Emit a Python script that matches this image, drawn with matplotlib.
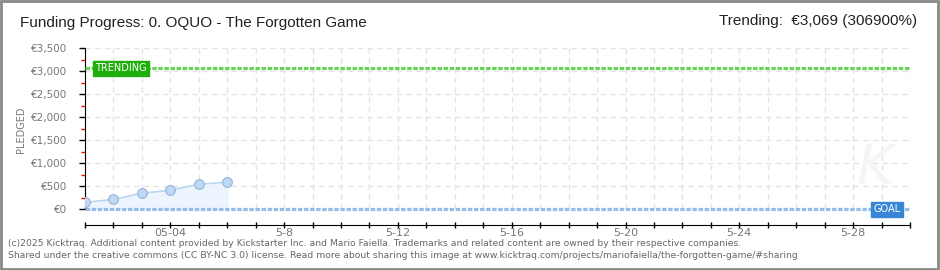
import matplotlib
matplotlib.use("Agg")
import matplotlib.pyplot as plt
import matplotlib.dates as mdates
from matplotlib.ticker import MultipleLocator, FuncFormatter
import datetime as dt

# data
dates = ["2025-05-01", "2025-05-02", "2025-05-03", "2025-05-04", "2025-05-05", "2025-05-06"]
pledged = [150, 215, 350, 415, 545, 590]
goal = 1
trending = 3069
x_start, x_end = "2025-05-01", "2025-05-30"
tick_labels = {"2025-05-04": "05-04", "2025-05-08": "5-8", "2025-05-12": "5-12",
               "2025-05-16": "5-16", "2025-05-20": "5-20", "2025-05-24": "5-24",
               "2025-05-28": "5-28"}

plt.rcParams['font.family'] = ['DejaVu Sans']

d = [dt.datetime.fromisoformat(s) for s in dates]
x0 = dt.datetime.fromisoformat(x_start)
x1 = dt.datetime.fromisoformat(x_end)

fig = plt.figure(figsize=(9.4, 2.7), dpi=100)
fig.patch.set_facecolor("white")
# outer frame
fig.add_artist(plt.Rectangle((0.001, 0.002), 0.997, 0.995, transform=fig.transFigure,
                             fill=False, edgecolor="#888888", linewidth=2))

ax = fig.add_axes([85 / 940, 1 - 209.3 / 270, 825 / 940, 161 / 270])
ax.set_xlim(x0, x1)
ax.set_ylim(0, 3500)

# grid
ax.yaxis.set_major_locator(MultipleLocator(500))
ax.yaxis.set_minor_locator(MultipleLocator(250))
ax.xaxis.set_major_locator(mdates.DayLocator())
ax.grid(True, which="major", color="#e4e4e4", linestyle=(0, (4, 3)), linewidth=1)
ax.set_axisbelow(True)

# series
ax.fill_between(d, pledged, 0, color="#ecf4fd", zorder=2)
ax.plot(d, pledged, color="#bcd6f2", linewidth=1.2, zorder=3)
ax.plot(d, pledged, "o", markersize=7, markerfacecolor="#bdd8f5",
        markeredgecolor="#94b4d8", markeredgewidth=0.8, zorder=4)

# goal and trending lines
ax.axhline(goal, color="#94bee9", linewidth=2.3, linestyle=(0, (1.4, 0.5)),
           zorder=3, clip_on=False)
ax.axhline(trending, color="#6ad35a", linewidth=2.3, linestyle=(0, (1.4, 0.5)), zorder=3)

ax.text(mdates.date2num(x0) + 0.35, trending, "TRENDING", color="white", fontsize=7,
        va="center", ha="left", zorder=5,
        bbox=dict(boxstyle="square,pad=0.25", facecolor="#1fae0c", edgecolor="#1fae0c"))
ax.text(mdates.date2num(x1) - 1.3, goal, "GOAL", color="white", fontsize=7,
        va="center", ha="left", zorder=5,
        bbox=dict(boxstyle="square,pad=0.25", facecolor="#3a86d6", edgecolor="#3a86d6"))

# spines
for s in ("top", "right"):
    ax.spines[s].set_visible(False)
ax.spines["left"].set_color("black")
ax.spines["bottom"].set_position(("outward", 11))
ax.spines["bottom"].set_color("black")

ax.yaxis.set_major_formatter(FuncFormatter(lambda v, p: "€{:,.0f}".format(v)))
ax.tick_params(axis="y", which="major", direction="out", length=4, width=1,
               color="black", labelsize=7.5, labelcolor="#777777", pad=9)
ax.tick_params(axis="y", which="minor", direction="out", length=3, width=1, color="red")

ax.xaxis.set_major_formatter(FuncFormatter(
    lambda v, p: tick_labels.get(mdates.num2date(v).strftime("%Y-%m-%d"), "")))
ax.tick_params(axis="x", which="major", direction="inout", length=5, width=1,
               color="black", labelsize=8, labelcolor="#777777", pad=0)

fig.text(21 / 940, 1 - 130 / 270, "PLEDGED", rotation=90, fontsize=7,
         color="#777777", ha="center", va="center")

# faint watermark
fig.text(875 / 940, 1 - 168 / 270, "K", fontsize=40, color="#f5f5f5",
         ha="center", va="center", style="italic", zorder=0)

# header
fig.text(20 / 940, 1 - 23 / 270, "Funding Progress: 0. OQUO - The Forgotten Game",
         fontsize=11, color="#222222", ha="left", va="center",
         family=['Liberation Sans', 'DejaVu Sans'])
fig.text(917 / 940, 1 - 21 / 270, "Trending:  €3,069 (306900%)",
         fontsize=11, color="#222222", ha="right", va="center",
         family=['Liberation Sans', 'DejaVu Sans'])

# footer
fig.text(8 / 940, 1 - 243 / 270,
         "(c)2025 Kicktraq. Additional content provided by Kickstarter Inc. and Mario Faiella. "
         "Trademarks and related content are owned by their respective companies.",
         fontsize=6.65, color="#666666", ha="left", va="center")
fig.text(8 / 940, 1 - 256 / 270,
         "Shared under the creative commons (CC BY-NC 3.0) license. Read more about sharing this image at "
         "www.kicktraq.com/projects/mariofaiella/the-forgotten-game/#sharing",
         fontsize=6.65, color="#666666", ha="left", va="center")

fig.savefig("out.png", dpi=100, facecolor="white")
